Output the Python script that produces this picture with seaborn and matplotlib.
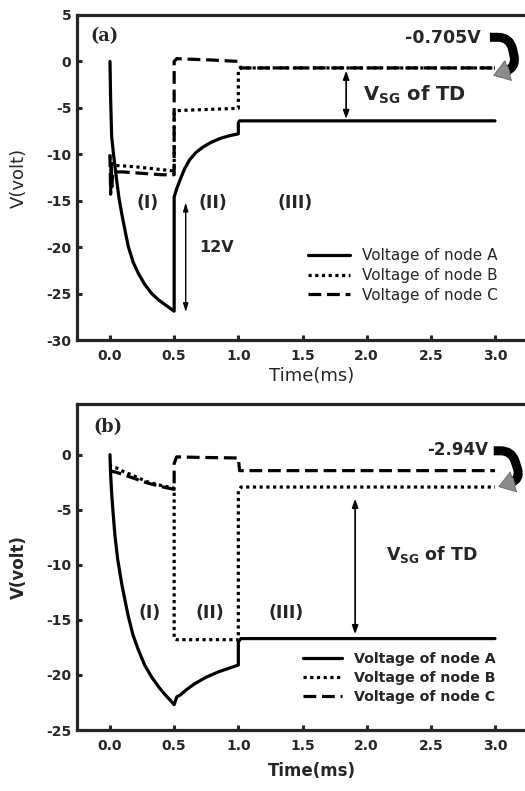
import numpy as np
import pandas as pd
import matplotlib
matplotlib.use("Agg")
import matplotlib.pyplot as plt
import seaborn as sns
from matplotlib.patches import FancyArrowPatch

# ---------------- data ----------------
# Panel (a)
a_tA = [0, 0.005, 0.013, 0.03, 0.052, 0.07, 0.091, 0.12, 0.143, 0.18, 0.22, 0.27, 0.325, 0.38, 0.43, 0.47, 0.5,
        0.5, 0.52, 0.545, 0.58, 0.62, 0.67, 0.727, 0.79, 0.857, 0.93, 1.0, 1.0, 1.01, 3.0]
a_vA = [0, -4.0, -8.1, -10.3, -12.8, -14.7, -16.35, -18.4, -19.95, -21.6, -22.8, -24.0, -25.0, -25.7, -26.2, -26.6, -26.9,
        -14.6, -13.7, -12.8, -11.6, -10.6, -9.8, -9.2, -8.7, -8.3, -8.0, -7.8, -6.6, -6.4, -6.4]
a_tB = [0, 0.01, 0.02, 0.04, 0.1, 0.2, 0.3, 0.4, 0.5, 0.5, 0.52, 0.6, 0.8, 1.0, 1.0, 1.02, 3.0]
a_vB = [-10.2, -11.8, -11.0, -11.2, -11.25, -11.35, -11.5, -11.65, -11.8, -5.5, -5.3, -5.25, -5.15, -5.05, -0.9, -0.7, -0.7]
a_tC = [0, 0.005, 0.01, 0.015, 0.02, 0.05, 0.1, 0.2, 0.3, 0.4, 0.5, 0.5, 0.52, 0.6, 0.8, 1.0, 1.02, 3.0]
a_vC = [-10.0, -14.3, -11.0, -13.5, -12.2, -11.9, -11.9, -12.0, -12.1, -12.2, -12.2, 0.0, 0.3, 0.25, 0.15, 0.0, -0.7, -0.7]

# Panel (b)
b_tA = [0, 0.005, 0.013, 0.025, 0.039, 0.06, 0.091, 0.12, 0.143, 0.18, 0.22, 0.27, 0.325, 0.38, 0.43, 0.47, 0.5,
        0.52, 0.55, 0.6, 0.66, 0.75, 0.85, 0.95, 1.0, 1.0, 1.02, 3.0]
b_vA = [0, -1.8, -3.5, -5.4, -7.4, -9.5, -11.7, -13.4, -14.7, -16.4, -17.7, -19.1, -20.2, -21.1, -21.8, -22.3, -22.7,
        -22.0, -21.8, -21.3, -20.8, -20.2, -19.7, -19.3, -19.1, -17.0, -16.7, -16.7]
b_tB = [0, 0.01, 0.05, 0.1, 0.2, 0.3, 0.4, 0.5, 0.5, 0.52, 0.7, 1.0, 1.0, 1.02, 3.0]
b_vB = [-0.9, -1.1, -1.2, -1.5, -2.0, -2.5, -2.8, -3.05, -16.7, -16.8, -16.8, -16.8, -3.3, -2.94, -2.94]
b_tC = [0, 0.01, 0.05, 0.1, 0.2, 0.3, 0.4, 0.5, 0.5, 0.52, 0.7, 1.0, 1.01, 3.0]
b_vC = [-1.3, -1.5, -1.6, -1.8, -2.2, -2.6, -2.9, -3.15, -0.8, -0.2, -0.25, -0.3, -1.45, -1.45]

labels = ["Voltage of node A", "Voltage of node B", "Voltage of node C"]
xticks = [0.0, 0.5, 1.0, 1.5, 2.0, 2.5, 3.0]
xticklabels = ["0.0", "0.5", "1.0", "1.5", "2.0", "2.5", "3.0"]
a_yticks = [5, 0, -5, -10, -15, -20, -25, -30]
b_yticks = [0, -5, -10, -15, -20, -25]

# ---------------- style ----------------
sns.set_style("ticks")
plt.rcParams['font.family'] = ['DejaVu Sans']
plt.rcParams['mathtext.fontset'] = 'dejavusans'
plt.rcParams['axes.linewidth'] = 2.3

fig = plt.figure(figsize=(5.25, 7.91), dpi=100)
W, H = 525, 791
def axes_px(left, top, right, bottom):
    return fig.add_axes([left / W, 1 - bottom / H, (right - left) / W, (bottom - top) / H])

ax_a = axes_px(77, 15, 528, 340)
ax_b = axes_px(77, 404, 528, 730)

styles = [dict(linestyle='-'), dict(linestyle=(0, (1, 1.1))), dict(linestyle=(0, (4, 1.8)))]
LW = 2.3

def draw(ax, series):
    for (t, v), lab, st in zip(series, labels, styles):
        df = pd.DataFrame({"t": t, "v": v})
        sns.lineplot(data=df, x="t", y="v", ax=ax, color='black', lw=LW, estimator=None, sort=False,
                     label=lab, **st)
    ax.set_xlim(-0.257, 3.257)
    ax.set_xticks(xticks)
    ax.set_xticklabels(xticklabels, fontweight='bold')
    ax.tick_params(axis='both', direction='in', length=3.5, width=2.2, labelsize=10)
    ax.tick_params(axis='x', pad=6.5)
    ax.tick_params(axis='y', pad=4)

draw(ax_a, [(a_tA, a_vA), (a_tB, a_vB), (a_tC, a_vC)])
draw(ax_b, [(b_tA, b_vA), (b_tB, b_vB), (b_tC, b_vC)])

ax_a.set_ylim(-30, 5)
ax_a.set_yticks(a_yticks)
ax_a.set_yticklabels([str(v) for v in a_yticks], fontweight='bold')
ax_b.set_ylim(-25, 4.6)
ax_b.set_yticks(b_yticks)
ax_b.set_yticklabels([str(v) for v in b_yticks], fontweight='bold')

cfg = [(ax_a, 'normal', 13, -0.083, (0.512, 0.282), 11, 0.3),
       (ax_b, 'bold', 12, -0.098, (0.502, 0.238), 10.2, 0.35)]
for ax, weight, lsize, xl_y, leg_anchor, legsize, lspace in cfg:
    ax.set_xlabel("Time(ms)", fontsize=lsize, fontweight=weight)
    ax.set_ylabel("V(volt)", fontsize=lsize, fontweight=weight)
    ax.xaxis.set_label_coords(0.52, xl_y)
    ax.yaxis.set_label_coords(-0.109, 0.5)
    leg = ax.legend(loc='upper left', bbox_to_anchor=leg_anchor, frameon=False,
                    handlelength=2.75, handletextpad=0.8, labelspacing=lspace, borderpad=0, borderaxespad=0,
                    prop=dict(size=legsize, weight=weight))
    for ln in leg.get_lines():
        ln.set_linewidth(LW)
    ax.spines['right'].set_visible(False)

# ---------------- annotations (a) ----------------
ax_a.text(-0.047, 2.7, "(a)", family=['DejaVu Serif'], fontweight='bold', fontsize=12.7,
          ha='center', va='center')
ax_a.text(2.59, 2.5, "-0.705V", fontweight='bold', fontsize=12.5, ha='center', va='center')
ax_a.text(2.37, -3.6, r"$\mathbf{V}_{\mathbf{SG}}$ of TD", fontweight='bold', fontsize=14, ha='center', va='center')
for x, lab in [(0.29, "(I)"), (0.80, "(II)"), (1.44, "(III)")]:
    ax_a.text(x, -15.3, lab, fontweight='bold', fontsize=12.3, ha='center', va='center')
ax_a.text(0.83, -20.0, "12V", fontweight='bold', fontsize=11.5, ha='center', va='center')
ax_a.annotate("", xy=(1.84, -1.0), xytext=(1.84, -6.2),
              arrowprops=dict(arrowstyle='<|-|>,head_length=0.5,head_width=0.18', color='black', lw=1.2,
                              shrinkA=0, shrinkB=0))
ax_a.annotate("", xy=(0.59, -15.2), xytext=(0.59, -27.0),
              arrowprops=dict(arrowstyle='<|-|>,head_length=0.5,head_width=0.15', color='black', lw=1.0,
                              shrinkA=0, shrinkB=0))

# ---------------- annotations (b) ----------------
ax_b.text(-0.015, 2.5, "(b)", family=['DejaVu Serif'], fontweight='bold', fontsize=12.7,
          ha='center', va='center')
ax_b.text(2.71, 0.45, "-2.94V", fontweight='bold', fontsize=12, ha='center', va='center')
ax_b.text(2.51, -9.1, r"$\mathbf{V}_{\mathbf{SG}}$ of TD", fontweight='bold', fontsize=12.5, ha='center', va='center')
for x, lab in [(0.31, "(I)"), (0.78, "(II)"), (1.37, "(III)")]:
    ax_b.text(x, -14.4, lab, fontweight='bold', fontsize=12.3, ha='center', va='center')
ax_b.annotate("", xy=(1.91, -4.0), xytext=(1.91, -16.3),
              arrowprops=dict(arrowstyle='<|-|>,head_length=0.5,head_width=0.18', color='black', lw=1.2,
                              shrinkA=0, shrinkB=0))

# curved arrows (black body, gray head)
def curved(ax, start, end, head_from, armA, armB, angleB, rad):
    body = FancyArrowPatch(start, head_from,
                           connectionstyle=f"arc,angleA=0,angleB={angleB},armA={armA},armB={armB},rad={rad}",
                           arrowstyle="-", lw=6.5, color='black', shrinkA=0, shrinkB=0,
                           clip_on=False, zorder=6, capstyle='butt', joinstyle='round')
    ax.add_patch(body)
    head = FancyArrowPatch(head_from, end,
                           arrowstyle="simple,head_length=1.1,head_width=1.5,tail_width=0.6",
                           mutation_scale=10, facecolor='#8c8c8c', edgecolor='#666666', lw=0.6,
                           shrinkA=0, shrinkB=0, clip_on=False, zorder=7)
    ax.add_patch(head)

# panel (a): start right of label, head tip just below the -0.705 V line
curved(ax_a, (2.96, 2.6), (2.99, -1.5), (3.11, -0.95), 20, 8, 20, 12)
# panel (b): head tip at the node B line
curved(ax_b, (2.99, 0.35), (3.03, -2.9), (3.15, -2.45), 18, 7, 20, 11)

fig.savefig("out.png", dpi=100)
